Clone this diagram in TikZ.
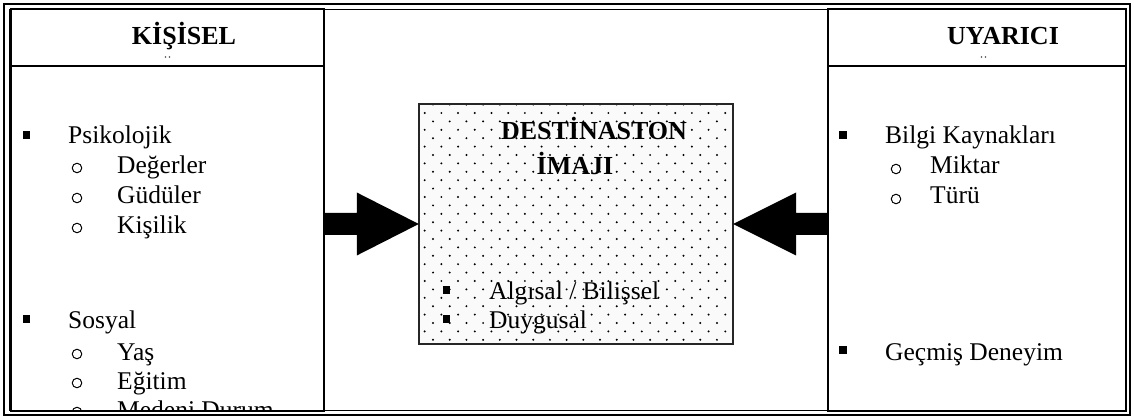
\documentclass[tikz,border=0pt]{standalone}
\usepackage{fontspec}
\setmainfont{Liberation Serif}
\usetikzlibrary{calc}
\definecolor{boxfill}{HTML}{FAFAFA}
\begin{document}
\begin{tikzpicture}[x=1pt,y=-1pt,
  txt/.style={anchor=base west, inner sep=0, font=\fontsize{25.5}{30}\selectfont},
  hdr/.style={anchor=base, inner sep=0, font=\bfseries\fontsize{26}{30}\selectfont},
  sq/.style={fill=black, minimum size=7.5pt, inner sep=0, draw=none},
  ob/.style={draw=black, line width=1pt, circle, minimum size=9.5pt, inner sep=0},
  panel/.style={draw=black, line width=1.8pt, inner sep=0},
  blockarrow/.style={fill=black, draw=none}
]
\useasboundingbox (0,0) rectangle (1134,419);
% outer double frame
\draw[line width=2.2pt] (4,4) rectangle (1130,415);
\draw[line width=1.3pt] (10,9.5) rectangle (1126,410.5);
% side panels
\node[panel, minimum width=313pt, minimum height=402pt] (L) at (167.5,210) {};
\node[panel, minimum width=298pt, minimum height=402pt] (R) at (977,210) {};
\draw[line width=1.8pt] (L.west |- 0,66) -- (L.east |- 0,66);
\draw[line width=1.8pt] (R.west |- 0,66) -- (R.east |- 0,66);
% headers
\node[hdr] (hl) at (184,45) {KİŞİSEL};
\node[hdr] (hr) at (1003,45) {UYARICI};
\fill[black!70] (165.5,57) circle (0.9) (169.5,57) circle (0.9);
\fill[black!70] (981.5,57) circle (0.9) (985.5,57) circle (0.9);
% centre box
\node[draw=none, fill=boxfill, minimum width=314pt, minimum height=240pt, inner sep=0] (C) at (576,224) {};
\begin{scope}
\clip (C.south west) rectangle (C.north east);
\foreach \r in {0,...,29}{
  \foreach \c in {-1,...,19}{
    \pgfmathsetmacro\xx{433+16.7*\c-mod(\r,2)*8.35}
    \pgfmathsetmacro\yy{104.6+8.4*\r}
    \fill (\xx,\yy) circle (1.1);
  }
}
\end{scope}
\draw[line width=1.8pt, draw=black!85] (C.south west) rectangle (C.north east);
\node[hdr] (d1) at (594,140) {DESTİNASTON};
\node[hdr] (d2) at (575,175) {İMAJI};
\node[sq] (cb1) at (446.5,290) {};
\node[txt] (c1) at (489,300) {Algısal / Bilişsel};
\node[sq] (cb2) at (446.5,319) {};
\node[txt] (c2) at (489,328) {Duygusal};
% arrows
\coordinate (la) at (L.east |- C.west);
\coordinate (lb) at (C.west);
\fill[blockarrow] ($(la)+(0,-11)$) -- ($(lb)+(-62,-11)$) -- ($(lb)+(-62,-31.5)$) -- (lb)
  -- ($(lb)+(-62,31.5)$) -- ($(lb)+(-62,11)$) -- ($(la)+(0,11)$) -- cycle;
\coordinate (ra) at (R.west |- C.east);
\coordinate (rb) at (C.east);
\fill[blockarrow] ($(ra)+(0,-11)$) -- ($(rb)+(63,-11)$) -- ($(rb)+(63,-31.5)$) -- (rb)
  -- ($(rb)+(63,31.5)$) -- ($(rb)+(63,11)$) -- ($(ra)+(0,11)$) -- cycle;
% left list
\begin{scope}
\clip (12,67) rectangle (323,410);
\node[sq] (lb1) at (26.5,135) {};
\node[txt] (l1) at (68,144) {Psikolojik};
\node[ob] (lo1) at (77,168) {};
\node[txt] (l2) at (117,174) {Değerler};
\node[ob] (lo2) at (77,198) {};
\node[txt] (l3) at (117,204) {Güdüler};
\node[ob] (lo3) at (77,228) {};
\node[txt] (l4) at (117,234) {Kişilik};
\node[sq] (lb2) at (26.5,319) {};
\node[txt] (l5) at (68,328) {Sosyal};
\node[ob] (lo4) at (77,354) {};
\node[txt] (l6) at (117,360) {Yaş};
\node[ob] (lo5) at (77,383) {};
\node[txt] (l7) at (117,389) {Eğitim};
\node[ob] (lo6) at (77,412) {};
\node[txt] (l8) at (117,418) {Medeni Durum};
\end{scope}
% right list
\node[sq] (rb1) at (843,135) {};
\node[txt] (r1) at (885,144) {Bilgi Kaynakları};
\node[ob] (ro1) at (896,169) {};
\node[txt] (r2) at (930,174) {Miktar};
\node[ob] (ro2) at (896,199) {};
\node[txt] (r3) at (930,204) {Türü};
\node[sq] (rb2) at (843,350) {};
\node[txt] (r4) at (885,360) {Geçmiş Deneyim};
\end{tikzpicture}
\end{document}
